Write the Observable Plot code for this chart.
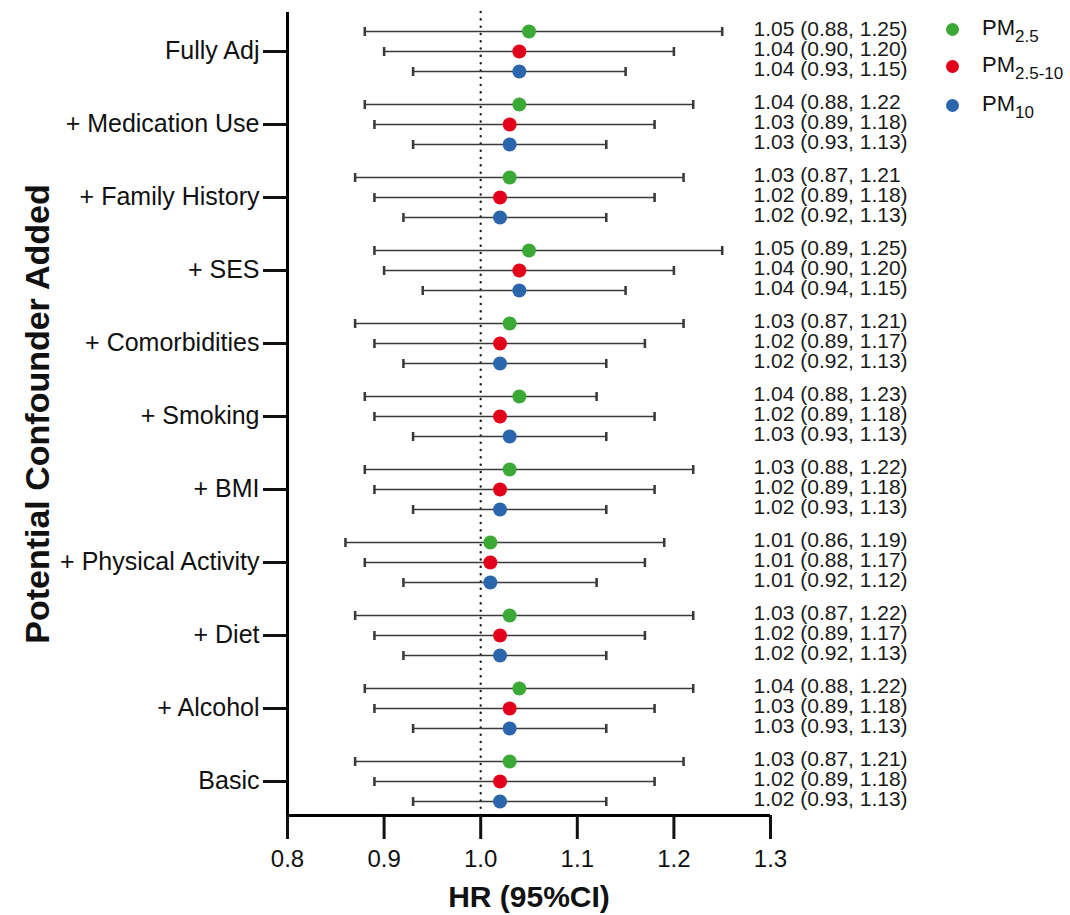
<!DOCTYPE html>
<html>
<head>
<meta charset="utf-8">
<script src="https://cdn.jsdelivr.net/npm/d3@7"></script>
<script src="https://cdn.jsdelivr.net/npm/@observablehq/plot@0.6"></script>
<style>
  body { margin: 0; background: white; font-family: "Liberation Sans", Arial, sans-serif; }
  #wrap { position: relative; width: 1070px; height: 915px; }
  .ldot { position: absolute; width: 13px; height: 13px; border-radius: 50%; }
  .ltxt { position: absolute; font-size: 22px; line-height: 22px; color: #111; white-space: nowrap; }
  .ltxt sub { font-size: 17px; vertical-align: -7px; line-height: 0; }
</style>
</head>
<body>
<div id="wrap"></div>
<script>
const groups = ["Fully Adj", "+ Medication Use", "+ Family History", "+ SES", "+ Comorbidities",
  "+ Smoking", "+ BMI", "+ Physical Activity", "+ Diet", "+ Alcohol", "Basic"];
const seriesNames = ["PM2.5", "PM2.5-10", "PM10"];
const seriesMain = ["PM", "PM", "PM"];
const seriesSub = ["2.5", "2.5-10", "10"];
const seriesColors = ["#3ba936", "#e2001a", "#2b66ac"];

const pm25Hr = [1.05, 1.04, 1.03, 1.05, 1.03, 1.04, 1.03, 1.01, 1.03, 1.04, 1.03];
const pm25Lo = [0.88, 0.88, 0.87, 0.89, 0.87, 0.88, 0.88, 0.86, 0.87, 0.88, 0.87];
const pm25Hi = [1.25, 1.22, 1.21, 1.25, 1.21, 1.12, 1.22, 1.19, 1.22, 1.22, 1.21];
const pm25Labels = ["1.05 (0.88, 1.25)", "1.04 (0.88, 1.22", "1.03 (0.87, 1.21", "1.05 (0.89, 1.25)",
  "1.03 (0.87, 1.21)", "1.04 (0.88, 1.23)", "1.03 (0.88, 1.22)", "1.01 (0.86, 1.19)",
  "1.03 (0.87, 1.22)", "1.04 (0.88, 1.22)", "1.03 (0.87, 1.21)"];

const pm2510Hr = [1.04, 1.03, 1.02, 1.04, 1.02, 1.02, 1.02, 1.01, 1.02, 1.03, 1.02];
const pm2510Lo = [0.90, 0.89, 0.89, 0.90, 0.89, 0.89, 0.89, 0.88, 0.89, 0.89, 0.89];
const pm2510Hi = [1.20, 1.18, 1.18, 1.20, 1.17, 1.18, 1.18, 1.17, 1.17, 1.18, 1.18];
const pm2510Labels = ["1.04 (0.90, 1.20)", "1.03 (0.89, 1.18)", "1.02 (0.89, 1.18)", "1.04 (0.90, 1.20)",
  "1.02 (0.89, 1.17)", "1.02 (0.89, 1.18)", "1.02 (0.89, 1.18)", "1.01 (0.88, 1.17)",
  "1.02 (0.89, 1.17)", "1.03 (0.89, 1.18)", "1.02 (0.89, 1.18)"];

const pm10Hr = [1.04, 1.03, 1.02, 1.04, 1.02, 1.03, 1.02, 1.01, 1.02, 1.03, 1.02];
const pm10Lo = [0.93, 0.93, 0.92, 0.94, 0.92, 0.93, 0.93, 0.92, 0.92, 0.93, 0.93];
const pm10Hi = [1.15, 1.13, 1.13, 1.15, 1.13, 1.13, 1.13, 1.12, 1.13, 1.13, 1.13];
const pm10Labels = ["1.04 (0.93, 1.15)", "1.03 (0.93, 1.13)", "1.02 (0.92, 1.13)", "1.04 (0.94, 1.15)",
  "1.02 (0.92, 1.13)", "1.03 (0.93, 1.13)", "1.02 (0.93, 1.13)", "1.01 (0.92, 1.12)",
  "1.02 (0.92, 1.13)", "1.03 (0.93, 1.13)", "1.02 (0.93, 1.13)"];

const xTicks = [0.8, 0.9, 1.0, 1.1, 1.2, 1.3];
const xTitle = "HR (95%CI)";
const yTitle = "Potential Confounder Added";

// layout (not data)
const rowOffset = [-0.274, 0, 0.274];
const yDomain = [10.466, -0.534];
const xDomain = [0.8, 1.3];

const seriesData = [
  [pm25Hr, pm25Lo, pm25Hi, pm25Labels],
  [pm2510Hr, pm2510Lo, pm2510Hi, pm2510Labels],
  [pm10Hr, pm10Lo, pm10Hi, pm10Labels]
];
const rows = [];
seriesData.forEach(([hr, lo, hi, lab], s) => {
  groups.forEach((g, i) => {
    rows.push({group: g, series: seriesNames[s], hr: hr[i], lo: lo[i], hi: hi[i], label: lab[i], pos: i + rowOffset[s]});
  });
});

const font = "Liberation Sans, Arial, sans-serif";
const chart = Plot.plot({
  width: 1070,
  height: 915,
  marginLeft: 287,
  marginRight: 300,
  marginTop: 12,
  marginBottom: 100,
  style: {fontFamily: font, background: "white", color: "#111", overflow: "visible"},
  x: {domain: xDomain},
  y: {domain: yDomain},
  color: {domain: seriesNames, range: seriesColors},
  marks: [
    Plot.ruleX([1.0], {stroke: "#222", strokeWidth: 2.4, strokeDasharray: "0.1,7.2", strokeLinecap: "round"}),
    Plot.link(rows, {x1: "lo", x2: "hi", y1: "pos", y2: "pos", stroke: "#3a3a3a", strokeWidth: 1.6, marker: "tick"}),
    Plot.dot(rows, {x: "hr", y: "pos", fill: "series", r: 7}),
    Plot.text(rows, {y: "pos", text: "label", frameAnchor: "right", dx: -17, dy: -2, textAnchor: "start", fontSize: 21, fill: "#1a1a1a"}),
    Plot.ruleX([xDomain[0]], {stroke: "#000", strokeWidth: 3}),
    Plot.ruleY([yDomain[0]], {stroke: "#000", strokeWidth: 3}),
    Plot.axisY({ticks: d3.range(groups.length), tickFormat: i => groups[i], tickSize: 24, strokeWidth: 3, tickPadding: 4, fontSize: 25, label: null}),
    Plot.axisX({ticks: xTicks, tickFormat: d3.format(".1f"), tickSize: 24, strokeWidth: 3, tickPadding: 10, fontSize: 24, label: null}),
    Plot.text([xTitle], {frameAnchor: "bottom", dy: 82, lineAnchor: "middle", fontSize: 30, fontWeight: "bold", fill: "#111"}),
    Plot.text([yTitle], {frameAnchor: "left", dx: -249, rotate: -90, textAnchor: "middle", lineAnchor: "middle", fontSize: 34, fontWeight: "bold", fill: "#111"})
  ]
});
const wrap = document.getElementById("wrap");
wrap.appendChild(chart);

// legend
const legendY = [29, 66, 105];
seriesNames.forEach((s, i) => {
  const dot = document.createElement("div");
  dot.className = "ldot";
  dot.style.left = (952 - 6.5) + "px";
  dot.style.top = (legendY[i] - 6.5) + "px";
  dot.style.background = seriesColors[i];
  wrap.appendChild(dot);
  const t = document.createElement("div");
  t.className = "ltxt";
  t.style.left = "982px";
  t.style.top = (legendY[i] - 12) + "px";
  t.innerHTML = seriesMain[i] + "<sub>" + seriesSub[i] + "</sub>";
  wrap.appendChild(t);
});
</script>
</body>
</html>
